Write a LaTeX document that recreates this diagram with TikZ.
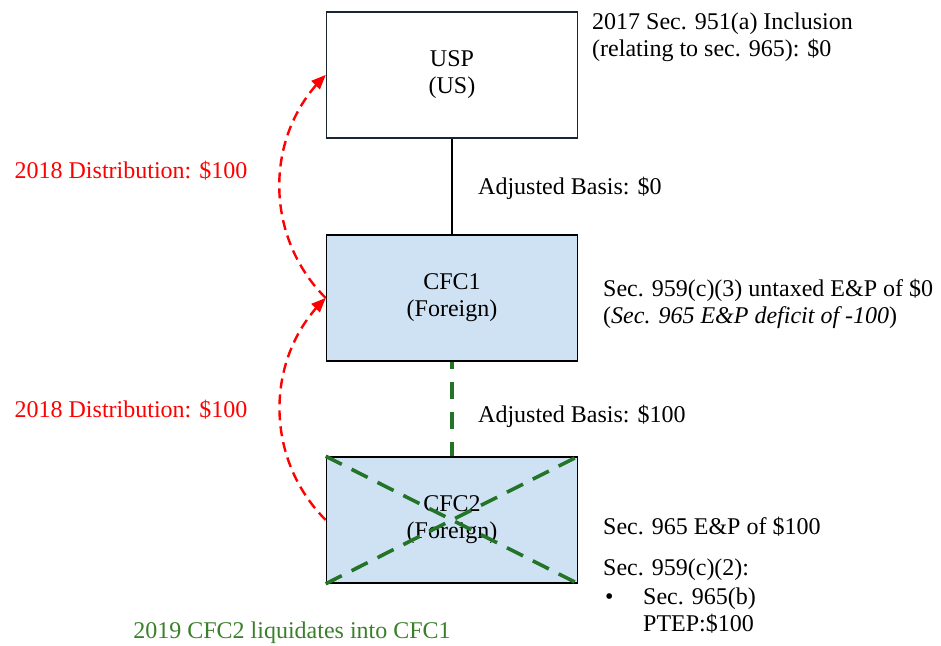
\documentclass[tikz,border=0pt]{standalone}
\usepackage{fontspec}
\setmainfont{Liberation Serif}
\usetikzlibrary{arrows}
\definecolor{boxblue}{RGB}{207,226,243}
\definecolor{xgreen}{RGB}{36,116,40}
\definecolor{txtgreen}{RGB}{58,128,42}
\definecolor{navy}{RGB}{24,38,52}
\tikzset{
    entity/.style={draw=black, line width=1.6pt, minimum width=251pt, minimum height=126pt,
        align=center, font=\fontsize{24}{27}\selectfont},
    foreign/.style={entity, fill=boxblue},
    note/.style={anchor=west, align=left, inner sep=0pt, font=\fontsize{24}{27}\selectfont},
    distarrow/.style={red, line width=2.4pt, dash pattern=on 10pt off 6pt, -triangle 45},
    liquidated/.style={xgreen, line width=3.6pt, dash pattern=on 18pt off 11pt},
}

\begin{document}
\begin{tikzpicture}[x=1pt,y=1pt]
                \useasboundingbox (0,0) rectangle (941,-645);
                \node[entity, draw=navy] (usp) at (452,-75) {USP\\(US)};
                \node[foreign] (cfc1) at (452,-298) {CFC1\\(Foreign)};
                \node[foreign] (cfc2) at (452,-520) {CFC2\\(Foreign)};
                \draw[line width=1.2pt] (usp.south) -- (cfc1.north);
                \draw[liquidated, dash pattern=on 17pt off 13pt, dash phase=10pt] (cfc1.south) -- (cfc2.north);
                \draw[liquidated] (cfc2.north west) -- (cfc2.south east);
                \draw[liquidated] (cfc2.south west) -- (cfc2.north east);
                \draw[distarrow] (cfc1.west) to[out=135,in=-135] (usp.west);
                \draw[distarrow] (cfc2.west) to[out=135,in=-135] (cfc1.west);
                \node[note] (basis1) at (478,-188) {Adjusted Basis: \$0};
                \node[note] (basis2) at (478,-416) {Adjusted Basis: \$100};
                \node[note] (incl) at (592,-37) {2017 Sec. 951(a) Inclusion\\(relating to sec. 965): \$0};
                \node[note] (untaxed) at (603,-304) {Sec. 959(c)(3) untaxed E\&P of \$0\\(\textit{Sec. 965 E\&P deficit of -100})};
                \node[note] (ep) at (603,-527) {Sec. 965 E\&P of \$100};
                \node[note] (pt) at (603,-570) {Sec. 959(c)(2):};
                \node[note] (dot) at (605,-599) {\textbullet};
                \node[note] (ptep) at (643,-611) {Sec. 965(b)\\PTEP:\$100};
                \node[note, anchor=center, red] (dist1) at (131,-171) {2018 Distribution: \$100};
                \node[note, anchor=center, red] (dist2) at (131,-410) {2018 Distribution: \$100};
                \node[note, anchor=center, txtgreen] (liq) at (292,-633) {2019 CFC2 liquidates into CFC1};
            \end{tikzpicture}
\end{document}
